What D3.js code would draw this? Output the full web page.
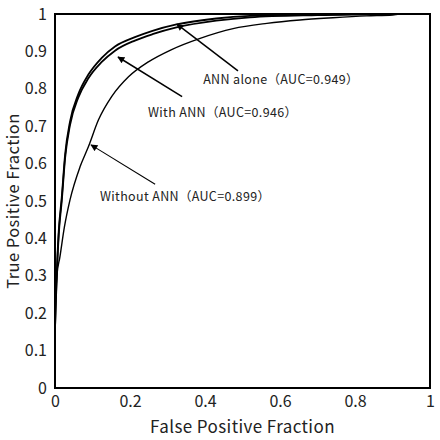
<!DOCTYPE html>
<html>
<head>
<meta charset="utf-8">
<script src="https://cdn.jsdelivr.net/npm/d3@7"></script>
<style>
  html, body { margin: 0; padding: 0; background: #fff; }
  svg { display: block; font-family: "Noto Sans CJK JP", "Noto Sans", sans-serif; }
</style>
</head>
<body>
<svg id="chart" width="440" height="440"></svg>
<script>
// ROC curves
const annAloneFpr = [0, 0.003, 0.006, 0.01, 0.018, 0.027, 0.04, 0.062, 0.089, 0.124, 0.16, 0.213, 0.26, 0.324, 0.43, 0.52, 0.7, 0.92];
const annAloneTpr = [0.16, 0.26, 0.34, 0.42, 0.51, 0.625, 0.712, 0.785, 0.838, 0.882, 0.913, 0.938, 0.955, 0.972, 0.988, 0.995, 0.999, 1];
const withAnnFpr = [0, 0.003, 0.006, 0.01, 0.018, 0.027, 0.04, 0.062, 0.089, 0.124, 0.16, 0.213, 0.26, 0.324, 0.43, 0.52, 0.7, 0.92];
const withAnnTpr = [0.16, 0.25, 0.33, 0.41, 0.5, 0.615, 0.703, 0.776, 0.828, 0.871, 0.902, 0.929, 0.946, 0.964, 0.982, 0.991, 0.997, 1];
const withoutFpr = [0, 0.005, 0.013, 0.025, 0.04, 0.067, 0.089, 0.116, 0.151, 0.196, 0.249, 0.311, 0.387, 0.475, 0.565, 0.653, 0.741, 0.831, 0.9, 0.92];
const withoutTpr = [0.22, 0.3, 0.35, 0.43, 0.503, 0.592, 0.645, 0.717, 0.779, 0.832, 0.872, 0.905, 0.935, 0.961, 0.975, 0.984, 0.99, 0.995, 0.9975, 1];

const xTicks = [0, 0.2, 0.4, 0.6, 0.8, 1];
const yTicks = [0, 0.1, 0.2, 0.3, 0.4, 0.5, 0.6, 0.7, 0.8, 0.9, 1];

// annotation labels with arrow tip / tail and text anchor, in data units
const noteText = ["ANN alone（AUC=0.949）", "With ANN（AUC=0.946）", "Without ANN（AUC=0.899）"];
const noteTip = [[0.325, 0.973], [0.168, 0.885], [0.096, 0.65]];
const noteTail = [[0.488, 0.848], [0.339, 0.779], [0.267, 0.545]];
const noteAt = [[0.395, 0.824], [0.248, 0.735], [0.12, 0.511]];

const svg = d3.select("#chart");
const m = { l: 55, r: 10, t: 14, b: 52 };
const W = 440, H = 440;
const x = d3.scaleLinear().domain([0, 1]).range([m.l, W - m.r]);
const y = d3.scaleLinear().domain([0, 1]).range([H - m.b, m.t]);

svg.append("defs").append("marker")
  .attr("id", "head").attr("viewBox", "0 0 10 10")
  .attr("refX", 9).attr("refY", 5)
  .attr("markerWidth", 9).attr("markerHeight", 7)
  .attr("markerUnits", "userSpaceOnUse")
  .attr("orient", "auto")
  .append("path").attr("d", "M0,0L10,5L0,10Z").attr("fill", "#000");

const line = d3.line().x((d) => x(d[0])).y((d) => y(d[1]))
  .curve(d3.curveMonotoneX);
const series = [
  { fpr: withoutFpr, tpr: withoutTpr, w: 1.4 },
  { fpr: withAnnFpr, tpr: withAnnTpr, w: 1.8 },
  { fpr: annAloneFpr, tpr: annAloneTpr, w: 1.8 },
];
svg.append("g").selectAll("path").data(series).join("path")
  .attr("d", (s) => line(s.fpr.map((f, i) => [f, s.tpr[i]])))
  .attr("fill", "none").attr("stroke", "#000")
  .attr("stroke-width", (s) => s.w);

// frame
svg.append("rect")
  .attr("x", x(0)).attr("y", y(1))
  .attr("width", x(1) - x(0)).attr("height", y(0) - y(1))
  .attr("fill", "none").attr("stroke", "#000").attr("stroke-width", 2);

// tick labels (no tick marks)
svg.append("g").attr("transform", `translate(0,${y(0)})`)
  .call(d3.axisBottom(x).tickValues(xTicks).tickSize(0).tickPadding(8)
    .tickFormat((d) => d3.format("")(d)))
  .call((g) => g.select(".domain").remove())
  .call((g) => g.selectAll("text").attr("font-size", 16)
    .attr("font-family", "Noto Sans CJK JP").attr("fill", "#222"));
svg.append("g").attr("transform", `translate(${x(0)},0)`)
  .call(d3.axisLeft(y).tickValues(yTicks).tickSize(0).tickPadding(8)
    .tickFormat((d) => d3.format("")(d)))
  .call((g) => g.select(".domain").remove())
  .call((g) => g.selectAll("text").attr("font-size", 16)
    .attr("font-family", "Noto Sans CJK JP").attr("fill", "#222"));

// axis titles
svg.append("text").attr("x", (x(0) + x(1)) / 2).attr("y", 433)
  .attr("text-anchor", "middle").attr("font-size", 17).attr("fill", "#222")
  .attr("letter-spacing", 0.4)
  .text("False Positive Fraction");
svg.append("text")
  .attr("transform", `translate(19,${(y(0) + y(1)) / 2}) rotate(-90)`)
  .attr("text-anchor", "middle").attr("font-size", 16.5).attr("fill", "#222")
  .attr("letter-spacing", 0.45)
  .text("True Positive Fraction");

// annotations
const notes = svg.append("g");
noteText.forEach((t, i) => {
  notes.append("line")
    .attr("x1", x(noteTail[i][0])).attr("y1", y(noteTail[i][1]))
    .attr("x2", x(noteTip[i][0])).attr("y2", y(noteTip[i][1]))
    .attr("stroke", "#000").attr("stroke-width", i === 2 ? 1.1 : 1.5)
    .attr("marker-end", "url(#head)");
  notes.append("text")
    .attr("x", x(noteAt[i][0])).attr("y", y(noteAt[i][1]))
    .attr("dy", "0.35em").attr("font-size", 12.5).attr("fill", "#222")
    .attr("letter-spacing", 0.35)
    .text(t);
});
</script>
</body>
</html>
